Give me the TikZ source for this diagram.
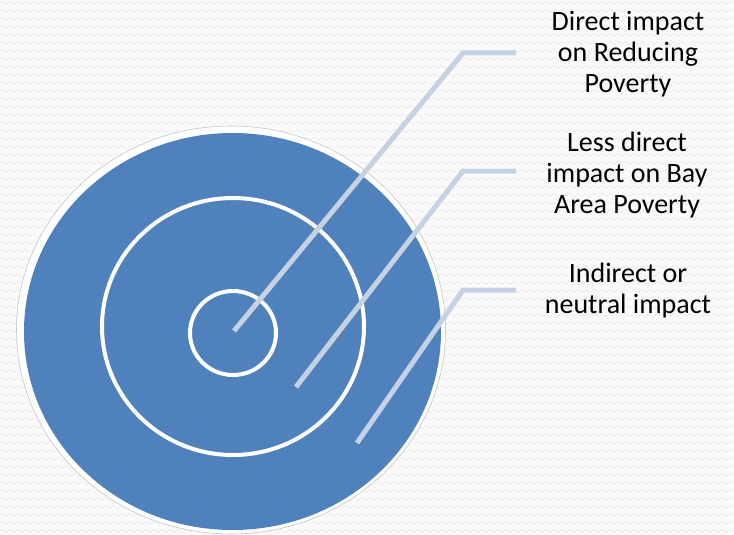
\documentclass[tikz,border=0pt]{standalone}
\usepackage{fontspec}
\setmainfont{Carlito}
\usetikzlibrary{decorations.pathmorphing}
\definecolor{ringblue}{RGB}{79,129,189}
\definecolor{leader}{RGB}{198,209,228}
\definecolor{bgzig}{RGB}{236,236,236}
\begin{document}
\begin{tikzpicture}[x=1pt,y=-1pt,
  lbltext/.style={align=center, inner sep=0pt, font=\fontsize{28}{31}\selectfont},
  leaderline/.style={draw=leader, line width=5pt, line join=miter},
  ringline/.style={draw=white, line width=4pt}]
\useasboundingbox (0,0) rectangle (734,535);
\fill[white!98!black] (0,0) rectangle (734,535);
\foreach \yy in {3,11,...,535}
  \draw[bgzig, line width=0.7pt, decorate, decoration={zigzag, segment length=8pt, amplitude=1.5pt}] (0,\yy) -- (734,\yy);
% target
\draw[gray!45, line width=0.6pt, fill=white] (231,330) ellipse [x radius=214.5, y radius=204];
\fill[ringblue] (232.5,331.5) ellipse [x radius=208.5, y radius=198.5];
\draw[ringline] (233,326.5) ellipse [x radius=131, y radius=128.5];
\draw[ringline] (233,333) ellipse [x radius=43, y radius=42];
% leader lines
\coordinate (p1) at (234,331);
\coordinate (c1) at (463,53);
\coordinate (e1) at (516,53);
\coordinate (p2) at (296,387);
\coordinate (c2) at (463,171);
\coordinate (e2) at (516,171);
\coordinate (p3) at (357,443);
\coordinate (c3) at (463,290);
\coordinate (e3) at (516,290);
\draw[leaderline] (p1) -- (c1) -- (e1);
\draw[leaderline] (p2) -- (c2) -- (e2);
\draw[leaderline] (p3) -- (c3) -- (e3);
% labels
\node[lbltext] (t1) at (628,54) {Direct impact\\on Reducing\\Poverty};
\node[lbltext] (t2) at (627,175) {Less direct\\impact on Bay\\Area Poverty};
\node[lbltext] (t3) at (628,291) {Indirect or\\neutral impact};
\end{tikzpicture}
\end{document}
